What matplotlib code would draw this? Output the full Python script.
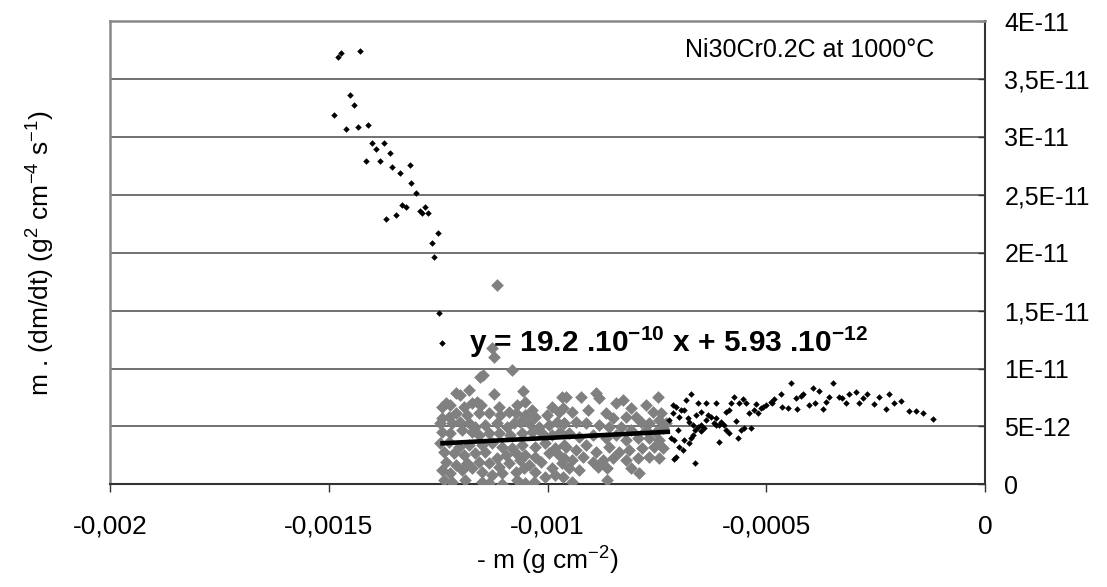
import matplotlib
matplotlib.use("Agg")
import matplotlib.pyplot as plt
import numpy as np

plt.rcParams['font.family'] = ['Liberation Sans', 'DejaVu Sans']
plt.rcParams['mathtext.default'] = 'regular'

# black points: x in 1e-4 g/cm2, y in 1e-12 g2 cm-4 s-1
black_x = [-14.80, -14.71, -14.29, -14.52, -14.43, -14.89, -14.61, -14.34, -14.11,
           -14.02, -13.93, -13.74, -14.16, -13.84, -13.61, -13.56, -13.38, -13.15,
           -13.11, -13.01, -13.33, -13.24, -13.47, -13.70, -12.92, -12.88, -12.79,
           -12.74, -12.51, -12.65, -12.60, -12.47, -12.42,
           -4.44, -3.47, -3.94, -3.79, -4.17, -4.21, -4.32, -4.67, -4.82, -4.89,
           -5.01, -5.12, -5.24, -5.27, -5.39, -5.54, -5.62, -5.73, -5.85, -5.69,
           -5.92, -5.85, -5.65, -5.58, -5.35, -5.50, -6.04, -6.07, -6.15, -6.19,
           -6.34, -6.38, -6.49, -6.57, -6.72, -6.87, -6.80, -6.76, -6.68, -6.64,
           -6.57, -6.49, -6.72, -6.68, -6.76, -6.87, -6.91, -6.99, -7.02, -7.10,
           -7.18, -7.06, -7.10, -6.62, -7.22, -7.14, -7.06, -6.99, -6.95, -6.15,
           -6.26, -5.96, -5.92, -5.81, -5.46, -5.20, -5.08, -4.86, -4.63, -4.51,
           -4.29, -4.02, -3.88, -3.70, -3.64, -3.56, -3.33, -3.26, -3.18, -3.11,
           -2.95, -2.88, -2.80, -2.69, -2.53, -2.42, -2.27, -2.19, -2.08, -1.93,
           -1.74, -1.57, -1.42, -1.19, -7.14, -6.83, -6.42, -6.49, -6.61, -6.07,
           -6.15, -6.38]
black_y = [36.92, 37.21, 37.41, 33.61, 32.75, 31.88, 30.67, 30.85, 31.02,
           29.47, 28.95, 29.47, 27.92, 27.92, 28.61, 27.40, 26.88, 27.57,
           26.02, 25.16, 24.12, 23.95, 23.26, 22.91, 23.60, 23.43, 23.95,
           23.43, 21.70, 20.84, 19.63, 14.80, 12.21,
           8.78, 8.78, 8.29, 8.09, 7.78, 7.63, 7.43, 7.78, 7.35, 7.14,
           6.86, 6.63, 6.91, 6.42, 6.14, 7.35, 7.00, 7.58, 6.42, 5.48,
           4.70, 4.47, 3.98, 4.70, 4.84, 4.84, 5.42, 5.13, 5.71, 5.27,
           5.99, 7.06, 6.28, 7.06, 7.78, 6.42, 5.71, 5.42, 5.13, 4.70,
           4.99, 5.13, 3.98, 4.27, 3.55, 3.84, 2.97, 3.26, 4.70, 3.84,
           3.98, 2.40, 2.17, 1.88, 5.56, 6.86, 6.71, 5.85, 6.42, 7.00,
           5.85, 5.13, 6.28, 7.00, 7.06, 6.14, 6.71, 7.00, 6.71, 6.57,
           6.51, 6.86, 7.06, 6.48, 7.14, 7.58, 7.52, 7.43, 7.06, 7.78,
           7.95, 7.06, 7.43, 7.78, 6.91, 7.58, 6.48, 7.78, 7.00, 7.23,
           6.37, 6.37, 6.19, 5.65, 6.14, 7.29, 4.84, 4.64, 5.99, 3.69,
           5.13, 5.56]

# grey points (fitted range)
grey_x = [-11.80, -11.99, -12.10, -11.23, -10.57, -11.61, -11.72, -12.33, -12.41, -12.22,
          -11.91, -11.53, -11.11, -10.70, -10.51, -10.35, -9.90, -9.67, -9.74, -10.01,
          -10.28, -10.51, -10.73, -10.89, -11.08, -11.34, -11.57, -11.84, -12.10, -12.26,
          -12.41, -12.45, -12.18, -11.99, -11.80, -11.65, -11.42, -11.15, -10.92, -10.77,
          -10.62, -10.43, -10.20, -9.97, -9.78, -9.63, -12.41, -12.22, -11.95, -11.72,
          -11.57, -11.34, -11.11, -10.85, -10.58, -10.35, -10.12, -9.90, -9.71, -12.45,
          -12.26, -12.03, -11.80, -11.49, -11.27, -11.04, -10.81, -10.58, -10.28, -10.05,
          -9.82, -9.63, -12.37, -12.14, -11.91, -11.65, -11.42, -11.15, -10.96, -10.73,
          -10.51, -10.28, -9.97, -9.74, -12.33, -12.10, -11.84, -11.57, -11.34, -11.11,
          -10.89, -10.62, -10.43, -10.16, -9.90, -9.67, -12.41, -12.22, -11.95, -11.72,
          -11.49, -11.27, -11.04, -10.73, -10.54, -10.28, -10.05, -9.82, -12.37, -12.18,
          -11.88, -11.49, -11.34, -11.04, -10.70, -10.51, -10.31,
          -9.58, -9.24, -8.89, -8.82, -8.44, -8.28, -8.09, -7.75, -7.48, -7.60,
          -7.41, -9.65, -9.43, -9.08, -8.66, -8.51, -8.21, -7.98, -7.87, -7.68,
          -7.45, -7.29, -9.62, -9.35, -9.12, -8.82, -8.59, -8.32, -8.09, -7.75,
          -7.52, -7.37, -9.50, -9.27, -8.97, -8.66, -8.44, -8.21, -7.94, -7.68,
          -7.45, -9.58, -9.35, -9.12, -8.89, -8.59, -8.36, -8.13, -7.83, -7.56,
          -7.37, -9.62, -9.43, -9.20, -8.97, -8.74, -8.51, -8.21, -7.94, -7.68,
          -7.45, -9.50, -9.27, -8.85, -8.63, -8.09, -7.90, -9.65, -9.43, -8.63,
          -11.16, -11.28, -11.23, -11.48, -11.55, -10.82]
grey_y = [8.15, 7.72, 7.86, 7.80, 8.06, 7.14, 7.00, 7.00, 6.71, 6.85,
          6.71, 6.85, 6.71, 6.85, 7.14, 6.42, 6.71, 7.57, 6.28, 5.99,
          5.85, 5.99, 6.13, 6.28, 5.99, 6.13, 6.13, 5.99, 6.13, 5.85,
          5.70, 5.27, 5.27, 5.41, 5.27, 4.98, 5.13, 5.27, 4.98, 5.27,
          5.41, 5.27, 4.98, 5.13, 5.41, 5.27, 4.55, 4.41, 4.69, 4.55,
          4.26, 4.41, 4.41, 4.26, 4.41, 4.55, 4.41, 4.26, 4.55, 3.54,
          3.69, 3.26, 3.40, 3.40, 3.54, 3.26, 3.11, 3.40, 3.26, 3.54,
          3.11, 3.40, 2.82, 2.68, 2.54, 2.68, 2.82, 2.25, 2.54, 2.68,
          2.54, 2.39, 2.68, 2.54, 1.96, 1.67, 1.82, 1.96, 1.82, 1.53,
          1.82, 2.11, 1.67, 1.96, 1.39, 1.82, 1.24, 0.95, 1.24, 1.39,
          1.10, 0.81, 0.95, 1.10, 1.39, 1.10, 0.67, 0.81, 0.38, 0.24,
          0.38, 0.24, 0.09, 0.02, 0.38, 0.09, 0.24,
          7.57, 7.57, 7.86, 7.43, 7.00, 7.28, 6.56, 6.85, 7.57, 6.28,
          6.13, 6.56, 6.28, 6.42, 6.13, 5.70, 5.85, 5.85, 5.41, 5.27,
          5.56, 5.27, 5.27, 5.41, 5.27, 5.13, 4.98, 4.98, 4.69, 4.69,
          4.55, 4.84, 4.41, 4.12, 4.26, 3.98, 4.26, 3.83, 3.98, 3.98,
          3.83, 3.26, 2.97, 3.40, 2.82, 3.26, 2.82, 2.97, 3.11, 3.26,
          3.11, 2.25, 2.11, 2.39, 1.96, 2.11, 2.25, 2.11, 2.25, 2.39,
          2.25, 1.39, 1.24, 1.53, 1.39, 1.39, 0.95, 0.67, 0.24, 0.38,
          17.21, 11.75, 11.02, 9.44, 9.30, 9.87]

# linear fit shown on the chart
fit_slope = 19.2e-10
fit_intercept = 5.93e-12
fit_range = [-0.00124, -0.000725]

x_ticks = [-0.002, -0.0015, -0.001, -0.0005, 0]
x_ticklabels = ['-0,002', '-0,0015', '-0,001', '-0,0005', '0']
y_ticks = [0, 5e-12, 1e-11, 1.5e-11, 2e-11, 2.5e-11, 3e-11, 3.5e-11, 4e-11]
y_ticklabels = ['0', '5E-12', '1E-11', '1,5E-11', '2E-11', '2,5E-11', '3E-11', '3,5E-11', '4E-11']

fig = plt.figure(figsize=(11.07, 5.87), dpi=100)
ax = fig.add_axes([0.0994, 0.1748, 0.7904, 0.7894])

gx = np.array(grey_x) * 1e-4
gy = np.array(grey_y) * 1e-12
bx = np.array(black_x) * 1e-4
by = np.array(black_y) * 1e-12

ax.scatter(gx, gy, marker='D', s=42, color='#808080', linewidths=0, zorder=3)
ax.scatter(bx, by, marker='D', s=11, color='black', linewidths=0, zorder=4)

fx = np.array(fit_range)
ax.plot(fx, fit_slope * fx + fit_intercept, color='black', lw=3.3, zorder=5)

ax.set_xlim(-0.002, 0)
ax.set_ylim(0, 4e-11)
ax.set_xticks(x_ticks)
ax.set_xticklabels(x_ticklabels, fontsize=19)
ax.set_yticks(y_ticks)
ax.set_yticklabels(y_ticklabels, fontsize=18)
ax.yaxis.tick_right()
ax.yaxis.set_label_position('left')
ax.tick_params(axis='x', direction='out', length=6, width=1, color='#333333', pad=16)
ax.tick_params(axis='y', direction='in', length=5, width=1, color='#333333', pad=14)

ax.grid(axis='y', color='#666666', lw=1.3, zorder=1)
ax.set_axisbelow(True)
for side in ['left', 'top']:
    ax.spines[side].set_color('#888888')
    ax.spines[side].set_linewidth(1.8)
for side in ['right', 'bottom']:
    ax.spines[side].set_color('#333333')
    ax.spines[side].set_linewidth(1.5)

ax.set_xlabel('- m (g cm$^{-2}$)', fontsize=19, labelpad=4)
ax.set_ylabel('m . (dm/dt) (g$^{2}$ cm$^{-4}$ s$^{-1}$)', fontsize=19, labelpad=38)

ax.text(-0.000115, 3.75e-11, 'Ni30Cr0.2C at 1000°C', fontsize=18, ha='right', va='center')
ax.text(-0.00118, 1.23e-11, 'y = 19.2 .10$^{-10}$ x + 5.93 .10$^{-12}$',
        fontsize=21.5, fontweight='bold', ha='left', va='center', zorder=6)

fig.savefig('out.png', dpi=100)
